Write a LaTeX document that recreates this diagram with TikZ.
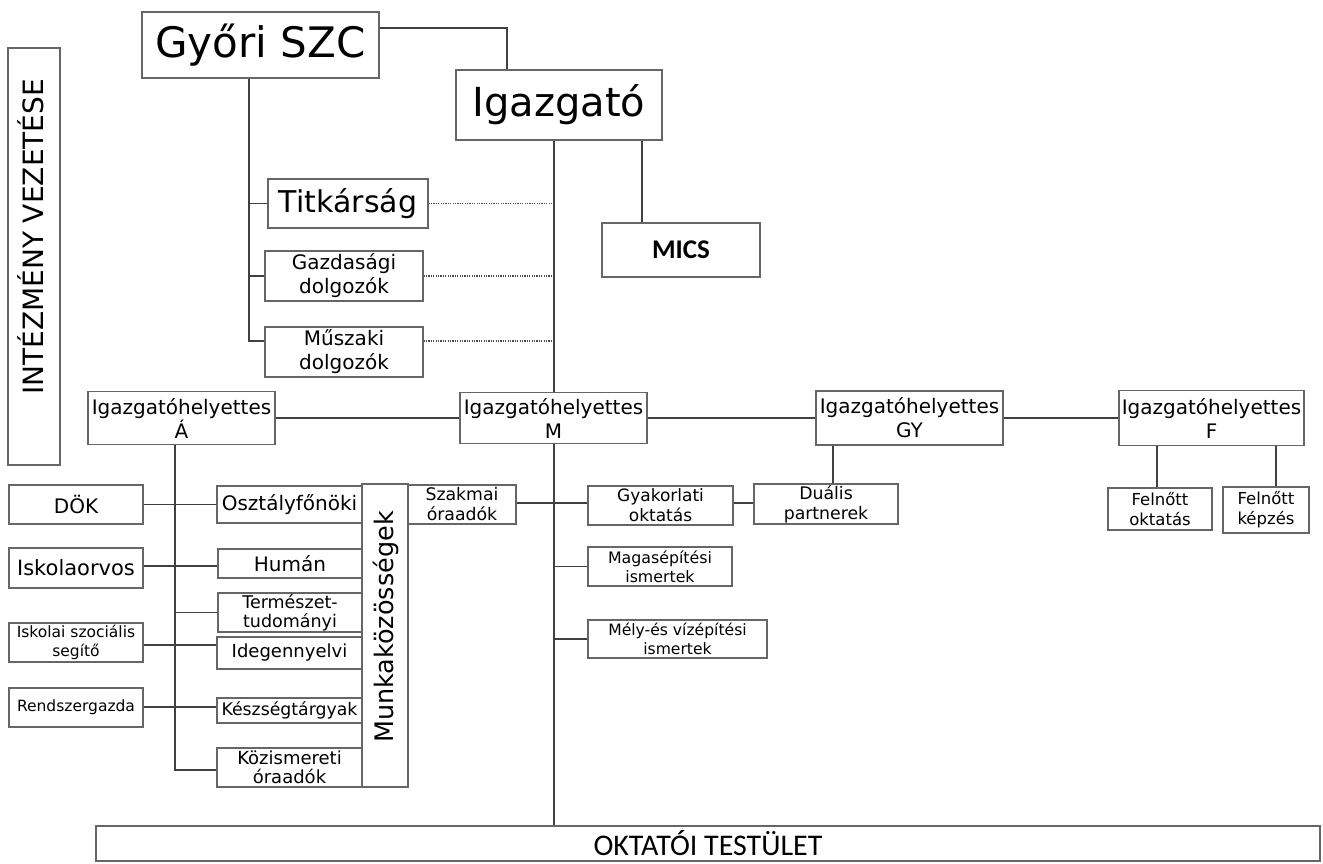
\documentclass[tikz,border=0pt]{standalone}
\usepackage{fontspec}
\setmainfont{DejaVu Sans}
\newfontfamily\carlito{Carlito}
\usetikzlibrary{calc}
\newcommand{\myfs}[2]{\fontsize{#1}{#2}\selectfont}
\begin{document}
\begin{tikzpicture}[x=1pt,y=-1pt,
  box/.style={draw=black!60, line width=1.2pt, fill=white, inner sep=0pt, align=center, text=black},
  conn/.style={draw=black!75, line width=1.8pt},
  dots/.style={draw=black!70, line width=1.2pt, dash pattern=on 1.2pt off 1.2pt}]
\useasboundingbox (0,0) rectangle (1323,863);

% left vertical label
\node[box, minimum width=52pt, minimum height=417pt] (vez) at (34,256.5) {};
\node[rotate=90, text=black, font=\myfs{28}{32}] (vezt) at (31,237) {INTÉZMÉNY VEZETÉSE};

% top
\node[box, minimum width=237pt, minimum height=66pt, font=\myfs{42}{48}] (gyori) at (260.5,45) {Győri SZC};
\node[box, minimum width=206pt, minimum height=70pt, font=\myfs{40}{46}] (igaz) at (559,105) {Igazgató};
\node[box, minimum width=160pt, minimum height=49pt, font=\myfs{30}{34}] (titk) at (348,203.5) {Titkárság};
\node[box, minimum width=158pt, minimum height=50pt, font=\myfs{20}{24}] (gazd) at (344,276) {Gazdasági\\dolgozók};
\node[box, minimum width=158pt, minimum height=50pt, font=\myfs{20}{24}] (musz) at (344,352) {Műszaki\\dolgozók};
\node[box, minimum width=158pt, minimum height=54pt, font=\carlito\bfseries\myfs{27}{30}] (mics) at (681,250) {MICS};

% deputies
\node[box, minimum width=187pt, minimum height=53pt, font=\myfs{20}{24}] (ha) at (181.5,418) {Igazgatóhelyettes\\Á};
\node[box, minimum width=187pt, minimum height=51pt, font=\myfs{20}{24}] (hm) at (553.5,418) {Igazgatóhelyettes\\M};
\node[box, minimum width=187pt, minimum height=54pt, font=\myfs{20}{24}] (hgy) at (909.5,418) {Igazgatóhelyettes\\GY};
\node[box, minimum width=185pt, minimum height=55pt, font=\myfs{20}{24}] (hf) at (1211.5,418) {Igazgatóhelyettes\\F};

% left column
\node[box, minimum width=134pt, minimum height=39pt, font=\myfs{20}{24}] (dok) at (76,504.5) {DÖK};
\node[box, minimum width=134pt, minimum height=40pt, font=\myfs{21}{24}] (orv) at (76,568) {Iskolaorvos};
\node[box, minimum width=134pt, minimum height=39pt, font=\myfs{15.5}{19}] (szoc) at (76,642.5) {Iskolai szociális\\segítő};
\node[box, minimum width=134pt, minimum height=39pt, font=\myfs{15.5}{19}] (rend) at (76,707.5) {Rendszergazda};

% munkakozossegek
\node[box, minimum width=145pt, minimum height=37pt, font=\myfs{20}{24}] (osz) at (289.5,504.5) {Osztályfőnöki};
\node[box, minimum width=144pt, minimum height=29pt, font=\myfs{20}{24}] (hum) at (290,563.5) {Humán};
\node[box, minimum width=144pt, minimum height=39pt, font=\myfs{17.5}{19}] (term) at (290,612.5) {Természet-\\tudományi};
\node[box, minimum width=145pt, minimum height=32pt, font=\myfs{18}{22}] (ideg) at (289.5,653) {Idegennyelvi};
\node[box, minimum width=145pt, minimum height=25pt, font=\myfs{17.3}{20}] (kesz) at (289.5,710.5) {Készségtárgyak};
\node[box, minimum width=145pt, minimum height=39pt, font=\myfs{18}{19}] (koz) at (289.5,767.5) {Közismereti\\óraadók};
\node[box, minimum width=46pt, minimum height=303pt] (munk) at (385,635.5) {};
\node[rotate=90, text=black, font=\myfs{25.5}{30}] (munkt) at (386,627) {Munkaközösségek};

% M side
\node[box, minimum width=108pt, minimum height=39pt, font=\myfs{17.3}{20}] (szak) at (462,504.5) {Szakmai\\óraadók};
\node[box, minimum width=145pt, minimum height=39pt, font=\myfs{17}{20}] (gyak) at (660.5,505.5) {Gyakorlati\\oktatás};
\node[box, minimum width=144pt, minimum height=40pt, font=\myfs{17.3}{20}] (dual) at (826,504) {Duális\\partnerek};
\node[box, minimum width=144pt, minimum height=39pt, font=\myfs{15.8}{19}] (mag) at (660,566.5) {Magasépítési\\ismertek};
\node[box, minimum width=179pt, minimum height=38pt, font=\myfs{15.6}{19}] (mely) at (677.5,639) {Mély-és vízépítési\\ismertek};

% F side
\node[box, minimum width=104pt, minimum height=42pt, font=\myfs{16.5}{20}] (fo) at (1160,509) {Felnőtt\\oktatás};
\node[box, minimum width=86pt, minimum height=46pt, font=\myfs{16.5}{20}] (fk) at (1266,510) {Felnőtt\\képzés};

% bottom
\node[box, minimum width=1224pt, minimum height=35pt, font=\carlito\myfs{30}{34}] (okt) at (708,843.5) {OKTATÓI TESTÜLET};

% connectors: top
\coordinate (gy1) at (507,28);
\draw[conn] (gy1 -| gyori.east) -- (gy1) -- (gy1 |- igaz.north);
\coordinate (gs) at (249,341);
\draw[conn] (gs |- gyori.south) -- (gs) -- (gs -| musz.west);
\draw[conn] (gs |- titk.west) -- (titk.west);
\draw[conn] (gs |- gazd.west) -- (gazd.west);
\coordinate (sp) at (554,0);
\draw[dots] (titk.east) -- (titk.east -| sp);
\draw[dots] (gazd.east) -- (gazd.east -| sp);
\draw[dots] (gs -| musz.east) -- (gs -| sp);
\draw[conn] (sp |- igaz.south) -- (sp |- hm.north);
\draw[conn] (sp |- hm.south) -- (sp |- okt.north);
\coordinate (mc) at (642,0);
\draw[conn] (mc |- igaz.south) -- (mc |- mics.north);

% deputies row
\draw[conn] (ha.east) -- (hm.west);
\draw[conn] (hm.east) -- (hgy.west);
\draw[conn] (hgy.east) -- (hf.west);

% A branch
\coordinate (as) at (175,770);
\draw[conn] (as |- ha.south) -- (as) -- (as -| koz.west);
\draw[conn] (dok.east) -- (osz.west);
\coordinate (r2) at (0,566);
\draw[conn] (r2 -| orv.east) -- (r2 -| hum.west);
\draw[conn] (as |- term.west) -- (term.west);
\coordinate (r4) at (0,645);
\draw[conn] (r4 -| szoc.east) -- (r4 -| ideg.west);
\coordinate (r5) at (0,707);
\draw[conn] (r5 -| rend.east) -- (r5 -| kesz.west);

% M branch
\coordinate (r6) at (0,503);
\draw[conn] (r6 -| szak.east) -- (r6 -| gyak.west);
\draw[conn] (r6 -| gyak.east) -- (r6 -| dual.west);
\draw[conn] (sp |- mag.west) -- (mag.west);
\draw[conn] (sp |- mely.west) -- (mely.west);

% GY, F branches
\coordinate (gd) at (833,0);
\draw[conn] (gd |- hgy.south) -- (gd |- dual.north);
\coordinate (f1) at (1157,0);
\draw[conn] (f1 |- hf.south) -- (f1 |- fo.north);
\coordinate (f2) at (1276,0);
\draw[conn] (f2 |- hf.south) -- (f2 |- fk.north);
\end{tikzpicture}
\end{document}
